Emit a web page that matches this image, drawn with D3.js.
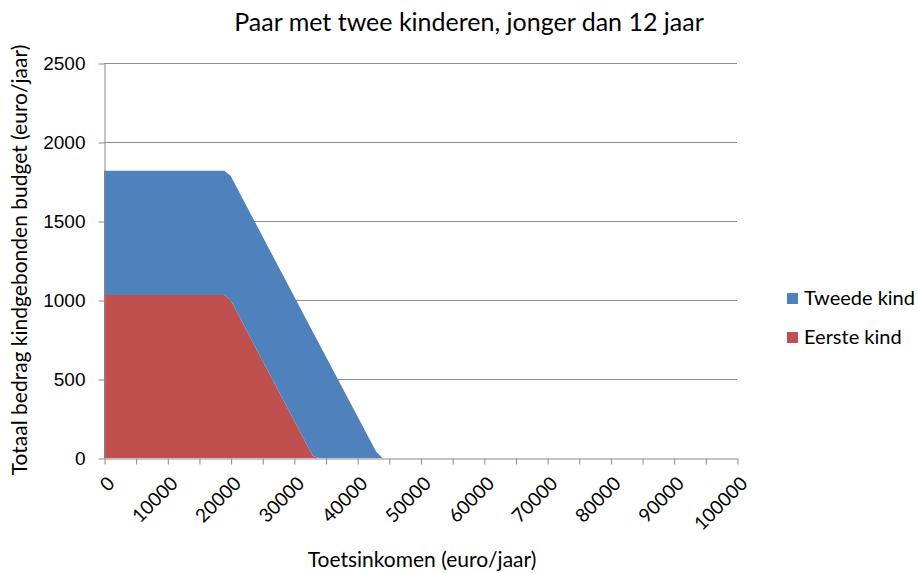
<!DOCTYPE html>
<html>
<head>
<meta charset="utf-8">
<script src="https://cdn.jsdelivr.net/npm/d3@7"></script>
<style>
  body { margin: 0; background: #fff; }
  svg { font-family: Lato, "Open Sans", sans-serif; }
</style>
</head>
<body>
<svg id="chart" width="918" height="573"></svg>
<script>
// income breakpoints (euro/jaar) and stacked amounts
const incomes = [0, 19000, 20000, 33000, 34000, 43000, 44000, 100000];
const eersteKind = [1032, 1032, 1000, 12, 0, 0, 0, 0];
const tweedeKind = [786, 786, 786, 786, 722, 40, 0, 0];

const xTicks = [0, 10000, 20000, 30000, 40000, 50000, 60000, 70000, 80000, 90000, 100000];
const xMinorTicks = d3.range(0, 100001, 5000);
const yTicks = [0, 500, 1000, 1500, 2000, 2500];

const seriesNames = ["Tweede kind", "Eerste kind"];
const COLORS = { "Eerste kind": "#C0504D", "Tweede kind": "#4F81BD" };

const LEFT = 104;
const RIGHT = 737;
const TOP = 63;
const BOTTOM = 458;

const svg = d3.select("#chart");

const xScale = d3.scaleLinear().domain([0, 100000]).range([LEFT, RIGHT]);
const yScale = d3.scaleLinear().domain([0, 2500]).range([BOTTOM, TOP]);

// gridlines
svg
  .append("g")
  .selectAll("line")
  .data(yTicks.filter((d) => d > 0))
  .enter()
  .append("line")
  .attr("x1", LEFT)
  .attr("x2", RIGHT)
  .attr("y1", (d) => Math.round(yScale(d)) + 0.5)
  .attr("y2", (d) => Math.round(yScale(d)) + 0.5)
  .attr("stroke", "#8c8c8c")
  .attr("stroke-width", 1);

const rows = incomes.map((x, i) => ({
  x,
  "Eerste kind": eersteKind[i],
  "Tweede kind": tweedeKind[i],
}));

const stack = d3.stack().keys(["Eerste kind", "Tweede kind"]);
const area = d3
  .area()
  .x((d) => xScale(d.data.x))
  .y0((d) => yScale(d[0]))
  .y1((d) => yScale(d[1]));

svg
  .append("g")
  .selectAll("path")
  .data(stack(rows))
  .enter()
  .append("path")
  .attr("fill", (d) => COLORS[d.key])
  .attr("d", area);

// y axis
const yAxis = svg
  .append("g")
  .attr("transform", `translate(${LEFT + 0.5}, 0.5)`)
  .call(
    d3
      .axisLeft(yScale)
      .tickValues(yTicks)
      .tickFormat(d3.format("d"))
      .tickSize(6)
      .tickPadding(13)
      .tickSizeOuter(0),
  );

// x axis
svg
  .append("g")
  .attr("transform", `translate(0.5, ${BOTTOM + 0.5})`)
  .call(d3.axisBottom(xScale).tickValues(xMinorTicks).tickSize(6).tickFormat("").tickSizeOuter(0));

svg.selectAll(".domain, .tick line").attr("stroke", "#8c8c8c");
yAxis.selectAll("text").attr("font-size", 19).attr("fill", "#000");

svg
  .append("g")
  .selectAll("text")
  .data(xTicks)
  .enter()
  .append("text")
  .attr("transform", (d) => `translate(${xScale(d) + 7}, ${BOTTOM + 22}) rotate(-45)`)
  .attr("text-anchor", "end")
  .attr("dy", "0.35em")
  .attr("font-size", 19)
  .text((d) => d);

// titles
svg
  .append("text")
  .attr("x", 469)
  .attr("y", 31)
  .attr("text-anchor", "middle")
  .attr("font-size", 25)
  .text("Paar met twee kinderen, jonger dan 12 jaar");

svg
  .append("text")
  .attr("x", 422)
  .attr("y", 567)
  .attr("text-anchor", "middle")
  .attr("font-size", 21)
  .text("Toetsinkomen (euro/jaar)");

svg
  .append("text")
  .attr("transform", "translate(27, 260) rotate(-90)")
  .attr("text-anchor", "middle")
  .attr("font-size", 21)
  .text("Totaal bedrag kindgebonden budget (euro/jaar)");

// legend
const legend = svg
  .selectAll(".legend")
  .data(seriesNames)
  .enter()
  .append("g")
  .attr("transform", (d, i) => `translate(787, ${298 + i * 39})`);

legend
  .append("rect")
  .attr("x", 0)
  .attr("y", -5)
  .attr("width", 11)
  .attr("height", 11)
  .attr("fill", (d) => COLORS[d]);

legend
  .append("text")
  .attr("x", 17)
  .attr("y", 0)
  .attr("dy", "0.35em")
  .attr("font-size", 20)
  .text((d) => d);
</script>
</body>
</html>
